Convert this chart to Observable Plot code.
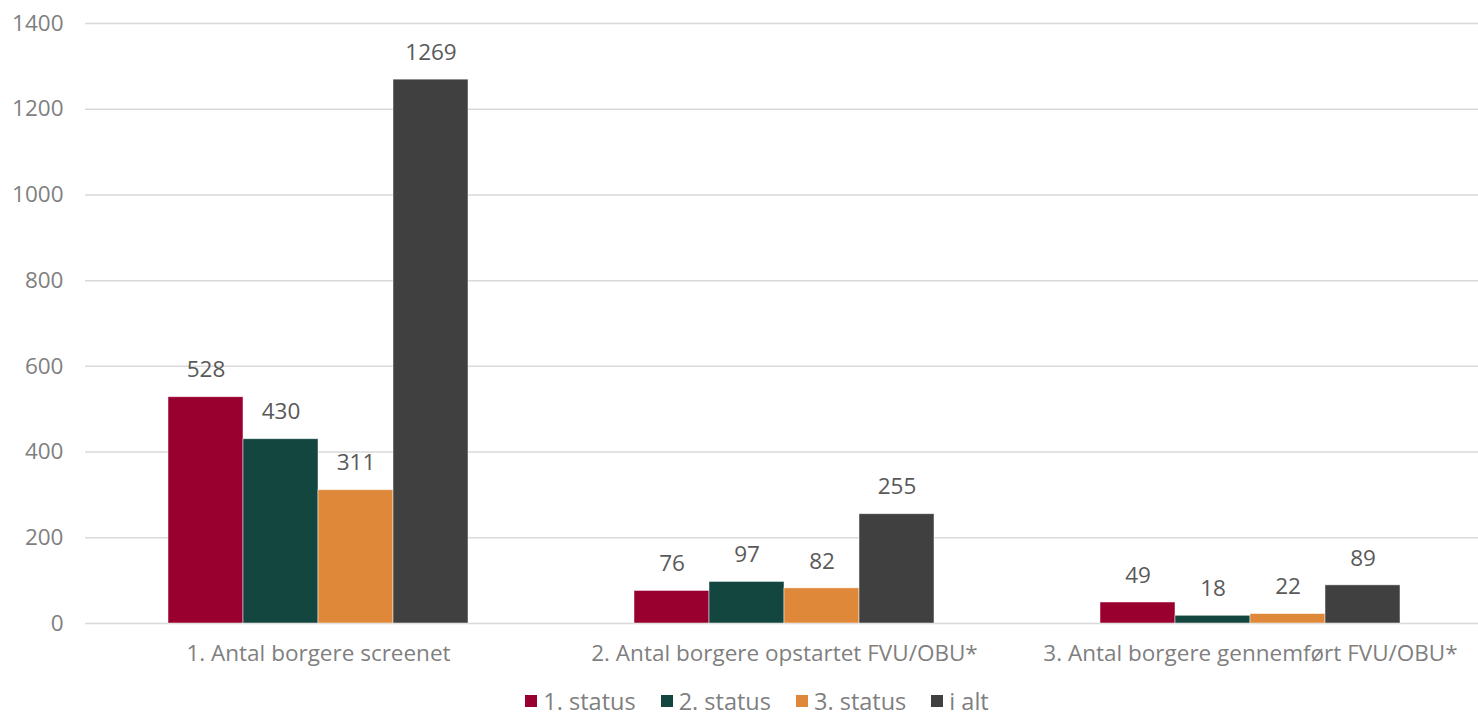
<!DOCTYPE html>
<html>
<head>
<meta charset="utf-8">
<script src="https://cdn.jsdelivr.net/npm/d3@7"></script>
<script src="https://cdn.jsdelivr.net/npm/@observablehq/plot@0.6"></script>
<style>
  html, body { margin: 0; padding: 0; background: #fff; }
  body { width: 1478px; height: 715px; overflow: hidden; font-family: "Open Sans", sans-serif; }
  #chart svg { display: block; }
  #legend { display: flex; justify-content: center; gap: 25px; font-size: 23.5px; color: #7f7f7f; margin-top: 8px; padding-left: 36px; line-height: 26px; }
  #legend span.item { display: flex; align-items: center; }
  #legend span.sw { display: inline-block; width: 12px; height: 12px; margin-right: 6px; }
</style>
</head>
<body>
<div id="chart"></div>
<div id="legend"></div>
<script>
const categories = ["1. Antal borgere screenet", "2. Antal borgere opstartet FVU/OBU*", "3. Antal borgere gennemført FVU/OBU*"];
const series = ["1. status", "2. status", "3. status", "i alt"];
const colors = ["#990030", "#12463F", "#E0883A", "#404040"];
const status1 = [528, 76, 49];
const status2 = [430, 97, 18];
const status3 = [311, 82, 22];
const iAlt = [1269, 255, 89];
const yTicks = [0, 200, 400, 600, 800, 1000, 1200, 1400];

const values = [status1, status2, status3, iAlt];
const data = [];
categories.forEach((c, i) => {
  series.forEach((s, j) => data.push({category: c, series: s, value: values[j][i]}));
});

const chart = Plot.plot({
  width: 1478,
  height: 680,
  marginLeft: 84,
  marginRight: 0,
  marginTop: 23,
  marginBottom: 57,
  style: { fontFamily: "Open Sans, sans-serif", fontSize: "22.5px", background: "#fff" },
  fx: { domain: categories, padding: 0, label: null, range: [84, 1483] },
  x: { domain: series, paddingInner: 0, paddingOuter: 1.087, axis: null },
  y: { domain: [0, 1400], ticks: yTicks, label: null, grid: false },
  color: { domain: series, range: colors },
  marks: [
    Plot.ruleY(yTicks, { stroke: "#d9d9d9", strokeWidth: 1.5 }),
    Plot.axisY({ ticks: yTicks, tickSize: 0, tickPadding: 22, label: null, fill: "#7f7f7f", fontSize: 22.5, tickFormat: d => String(d) }),
    Plot.axisFx({ tickSize: 0, tickPadding: 22, label: null, fill: "#7f7f7f", fontSize: 22.5, anchor: "bottom" }),
    Plot.barY(data, { fx: "category", x: "series", y: "value", fill: "series", stroke: "#ffffff", strokeWidth: 0.8, strokeOpacity: 0.6 }),
    Plot.text(data, { fx: "category", x: "series", y: "value", text: d => String(d.value), dy: -27, fill: "#595959", fontSize: 22.5 })
  ]
});
document.getElementById("chart").appendChild(chart);

const legend = document.getElementById("legend");
series.forEach((s, i) => {
  const item = document.createElement("span");
  item.className = "item";
  const sw = document.createElement("span");
  sw.className = "sw";
  sw.style.background = colors[i];
  item.appendChild(sw);
  item.appendChild(document.createTextNode(s));
  legend.appendChild(item);
});
</script>
</body>
</html>
